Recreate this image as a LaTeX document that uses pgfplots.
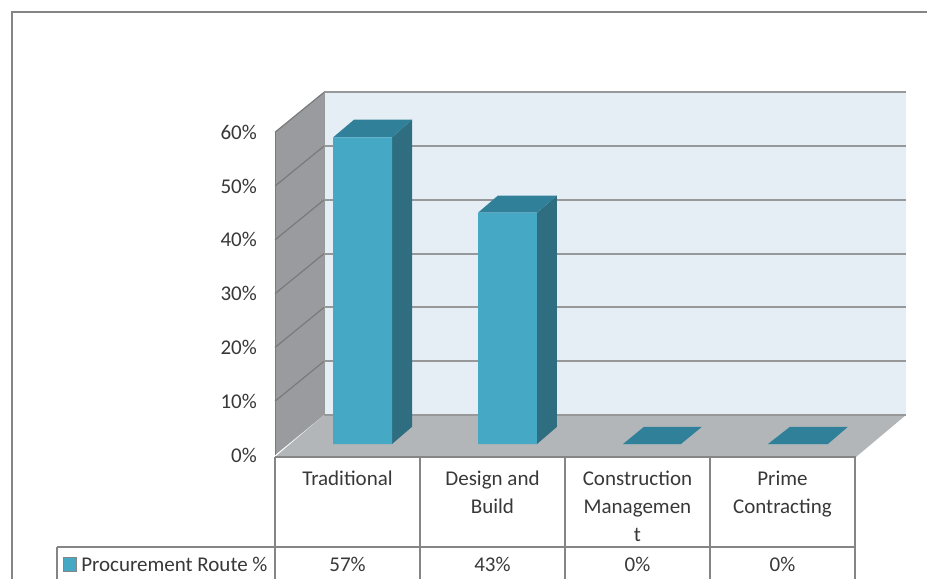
\documentclass[border=0pt]{standalone}
\usepackage{pgfplots}
\usepackage{pgfplotstable}
\usepackage{fontspec}
\setmainfont{Carlito}
\pgfplotsset{compat=1.18}
\definecolor{wallback}{HTML}{E6EEF5}
\definecolor{wallleft}{HTML}{9A9B9E}
\definecolor{floorc}{HTML}{B3B6B8}
\definecolor{gridc}{HTML}{979899}
\definecolor{barfront}{HTML}{45A8C5}
\definecolor{barside}{HTML}{2E6E80}
\definecolor{bartop}{HTML}{31809A}
\definecolor{rulec}{HTML}{858585}
\definecolor{txt}{HTML}{383838}
\pgfplotstableread{
x v
362.5 57
507.5 43
652.5 0
797.5 0
}\bars
\begin{document}
\begin{tikzpicture}
\begin{axis}[
  scale only axis, width=927pt, height=579pt,
  xmin=0, xmax=927, ymin=-25.09, ymax=82.53,
  axis line style={draw=none}, major tick length=0pt,
  xtick={347.5,492.5,637.5,782.5},
  xticklabels={Traditional,{Design and\\Build},{Construction\\Managemen\\t},{Prime\\Contracting}},
  x tick label style={align=center, anchor=north, inner sep=0pt, yshift=108.5pt,
    font=\fontsize{21}{28}\selectfont, text=txt},
  ytick={-2.04,7.96,17.96,27.96,37.96,47.96,57.96},
  yticklabels={0\%,10\%,20\%,30\%,40\%,50\%,60\%},
  y tick label style={anchor=east, inner sep=0pt, xshift=257pt,
    font=\fontsize{21}{24}\selectfont, text=txt},
  tick align=outside,
]
% walls and floor
\addplot[fill=wallback, draw=none] coordinates {(324,5.39)(906,5.39)(906,65.39)(324,65.39)} -- cycle;
\addplot[fill=wallleft, draw=none] coordinates {(275,-2.04)(275,57.96)(324,65.39)(324,5.39)} -- cycle;
\addplot[fill=floorc, draw=none] coordinates {(275,-2.42)(324,5.39)(906,5.39)(856,-2.42)} -- cycle;
% back gridlines
\foreach \g in {15.39,25.39,35.39,45.39,55.39,65.39}{
  \edef\tmp{\noexpand\addplot[gridc, line width=2pt] coordinates {(324,\g)(906,\g)};}\tmp
}
\addplot[gridc, line width=1.5pt] coordinates {(324,5.39)(906,5.39)};
% left wall gridlines
\foreach \a/\b in {7.96/15.39,17.96/25.39,27.96/35.39,37.96/45.39,47.96/55.39,57.96/65.39}{
  \edef\tmp{\noexpand\addplot[gridc!80!black, line width=1.2pt] coordinates {(275,\a)(324,\b)};}\tmp
}
\addplot[gridc, line width=1pt] coordinates {(324,5.39)(324,65.39)};
\addplot[gridc!80!black, line width=1pt] coordinates {(275,-2.04)(275,57.96)};
% bars: sides and tops
\addplot[fill=barside, draw=none] coordinates {(392,0)(412,3.2)(412,60.3)(392,57)} -- cycle;
\addplot[fill=bartop, draw=none] coordinates {(333,57)(392,57)(412,60.3)(354,60.3)} -- cycle;
\addplot[fill=barside, draw=none] coordinates {(537,0)(557,3.2)(557,46.2)(537,43)} -- cycle;
\addplot[fill=bartop, draw=none] coordinates {(478,43)(537,43)(557,46.2)(498,46.2)} -- cycle;
\addplot[fill=bartop, draw=none] coordinates {(623,0)(681,0)(702,3.2)(644,3.2)} -- cycle;
\addplot[fill=bartop, draw=none] coordinates {(768,0)(828,0)(848,3.2)(790,3.2)} -- cycle;
% bar fronts
\addplot[ybar, bar width=59pt, bar shift=0pt, fill=barfront, draw=none] table[x=x,y=v] {\bars};
% data table rules
\addplot[rulec, line width=1.6pt] coordinates {(275,-2.42)(856,-2.42)};
\addplot[rulec, line width=1.6pt] coordinates {(57,-19.14)(856,-19.14)};
\addplot[rulec, line width=1.6pt] coordinates {(275,-2.42)(275,-25.09)};
\addplot[rulec, line width=1.6pt] coordinates {(420,-2.42)(420,-25.09)};
\addplot[rulec, line width=1.6pt] coordinates {(565,-2.42)(565,-25.09)};
\addplot[rulec, line width=1.6pt] coordinates {(710,-2.42)(710,-25.09)};
\addplot[rulec, line width=1.6pt] coordinates {(855,-2.42)(855,-25.09)};
\addplot[rulec, line width=1.6pt] coordinates {(57,-19.14)(57,-25.09)};
% outer frame
\addplot[rulec, line width=1.6pt] coordinates {(12,-25.09)(12,80.3)(927,80.3)};
% legend key
\addplot[fill=barfront, draw=rulec, line width=0.6pt] coordinates {(63.5,-21)(76.5,-21)(76.5,-23.6)(63.5,-23.6)} -- cycle;
% table text
\node[anchor=west, inner sep=0pt, text=txt, font=\fontsize{21}{24}\selectfont] at (axis cs:81,-22.3) {Procurement Route \%};
\node[text=txt, inner sep=0pt, font=\fontsize{21}{24}\selectfont] at (axis cs:347.5,-22.3) {57\%};
\node[text=txt, inner sep=0pt, font=\fontsize{21}{24}\selectfont] at (axis cs:492.5,-22.3) {43\%};
\node[text=txt, inner sep=0pt, font=\fontsize{21}{24}\selectfont] at (axis cs:637.5,-22.3) {0\%};
\node[text=txt, inner sep=0pt, font=\fontsize{21}{24}\selectfont] at (axis cs:782.5,-22.3) {0\%};
\end{axis}
\end{tikzpicture}
\end{document}
